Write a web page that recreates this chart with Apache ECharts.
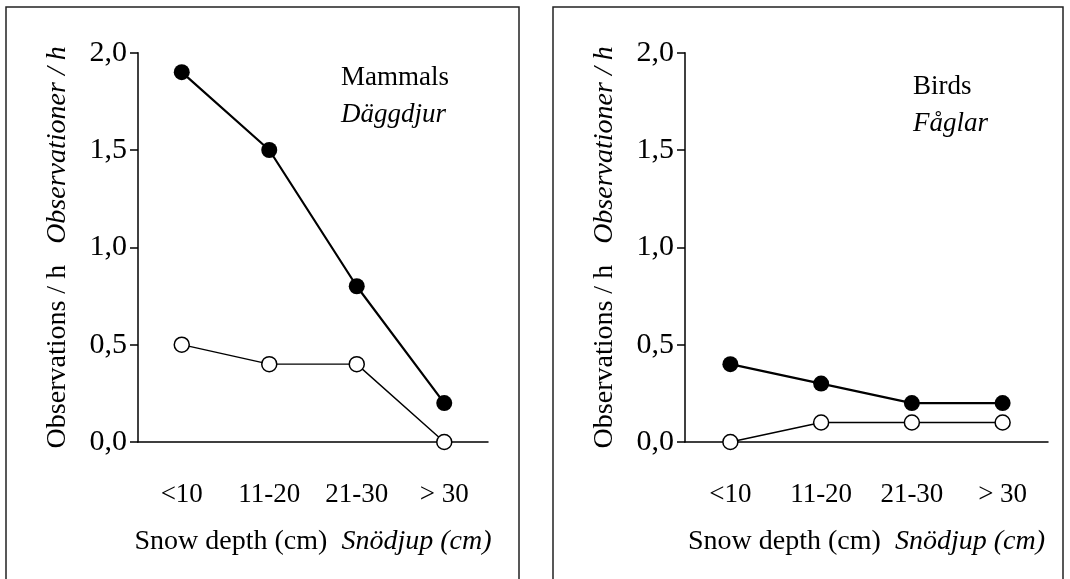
<!DOCTYPE html>
<html><head><meta charset="utf-8">
<script src="https://cdn.jsdelivr.net/npm/echarts@6/dist/echarts.min.js"></script>
<style>html,body{margin:0;padding:0;background:#fff}#c{width:1070px;height:579px}</style>
</head><body><div id="c"></div>
<script>
// ---- data ----
const categories = ['<10', '11-20', '21-30', '> 30'];
const mammalsFilled = [1.9, 1.5, 0.8, 0.2];
const mammalsOpen = [0.5, 0.4, 0.4, 0.0];
const birdsFilled = [0.4, 0.3, 0.2, 0.2];
const birdsOpen = [0.0, 0.1, 0.1, 0.1];
const yTickLabels = ['0,0', '0,5', '1,0', '1,5', '2,0'];
const panelTitles = [['Mammals', 'Däggdjur'], ['Birds', 'Fåglar']];

const FONT = '"Liberation Serif", "Times New Roman", serif';
const FS = 27;
const NFS = 28;

function xAxis(gi) {
  return {
    type: 'category', gridIndex: gi, data: categories, boundaryGap: true,
    axisLine: {lineStyle: {color: '#000', width: 1.5}},
    axisTick: {length: 7, lineStyle: {color: '#000', width: 1.5}},
    axisLabel: {color: '#000', fontFamily: FONT, fontSize: FS, margin: 39},
    name: '{a|Snow depth (cm)}  {b|Snödjup (cm)}',
    nameLocation: 'middle', nameGap: 86,
    nameTextStyle: {color: '#000', fontFamily: FONT, fontSize: NFS,
      rich: {a: {fontFamily: FONT, fontSize: NFS, color: '#000'},
             b: {fontFamily: FONT, fontSize: NFS, color: '#000', fontStyle: 'italic'}}}
  };
}
function yAxis(gi) {
  return {
    type: 'value', gridIndex: gi, min: 0, max: 2, interval: 0.5,
    splitLine: {show: false},
    axisLine: {show: true, lineStyle: {color: '#000', width: 1.5}},
    axisTick: {show: true, length: 8, lineStyle: {color: '#000', width: 1.5}},
    axisLabel: {color: '#000', fontFamily: FONT, fontSize: 30, margin: 11,
      formatter: v => yTickLabels[Math.round(v / 0.5)]},
    name: '{a|Observations / h}   {b|Observationer / h}',
    nameLocation: 'middle', nameGap: 66,
    nameTextStyle: {color: '#000', fontFamily: FONT, fontSize: NFS,
      rich: {a: {fontFamily: FONT, fontSize: NFS, color: '#000'},
             b: {fontFamily: FONT, fontSize: NFS, color: '#000', fontStyle: 'italic'}}}
  };
}
function filled(gi, data) {
  return {type: 'line', xAxisIndex: gi, yAxisIndex: gi, data: data, z: 3,
    symbol: 'circle', symbolSize: 16,
    itemStyle: {color: '#000'}, lineStyle: {color: '#000', width: 2.2}};
}
function open(gi, data) {
  return {type: 'line', xAxisIndex: gi, yAxisIndex: gi, data: data, z: 4,
    symbol: 'circle', symbolSize: 15,
    itemStyle: {color: '#fff', borderColor: '#000', borderWidth: 1.5},
    lineStyle: {color: '#000', width: 1.4}};
}
function titleText(x, y, txt, italic) {
  return {type: 'text', x: x, y: y, silent: true,
    style: {text: txt, fill: '#000', font: (italic ? 'italic ' : '') + FS + 'px ' + FONT,
      textAlign: 'left', textVerticalAlign: 'middle', verticalAlign: 'middle'}};
}

const chart = echarts.init(document.getElementById('c'), null, {renderer: 'canvas'});
chart.setOption({
  animation: false,
  backgroundColor: '#fff',
  grid: [
    {left: 138, top: 52.7, width: 350, height: 389.3},
    {left: 685, top: 52.7, width: 363, height: 389.3}
  ],
  xAxis: [xAxis(0), xAxis(1)],
  yAxis: [yAxis(0), yAxis(1)],
  series: [filled(0, mammalsFilled), open(0, mammalsOpen), filled(1, birdsFilled), open(1, birdsOpen)],
  graphic: [
    {type: 'rect', silent: true, shape: {x: 6, y: 7, width: 513, height: 620},
      style: {fill: 'none', stroke: '#222', lineWidth: 1.5}},
    {type: 'rect', silent: true, shape: {x: 553, y: 7, width: 510, height: 620},
      style: {fill: 'none', stroke: '#222', lineWidth: 1.5}},
    titleText(341, 78, panelTitles[0][0], false),
    titleText(341, 115, panelTitles[0][1], true),
    titleText(913, 87, panelTitles[1][0], false),
    titleText(913, 124, panelTitles[1][1], true)
  ]
});
</script>
</body></html>
